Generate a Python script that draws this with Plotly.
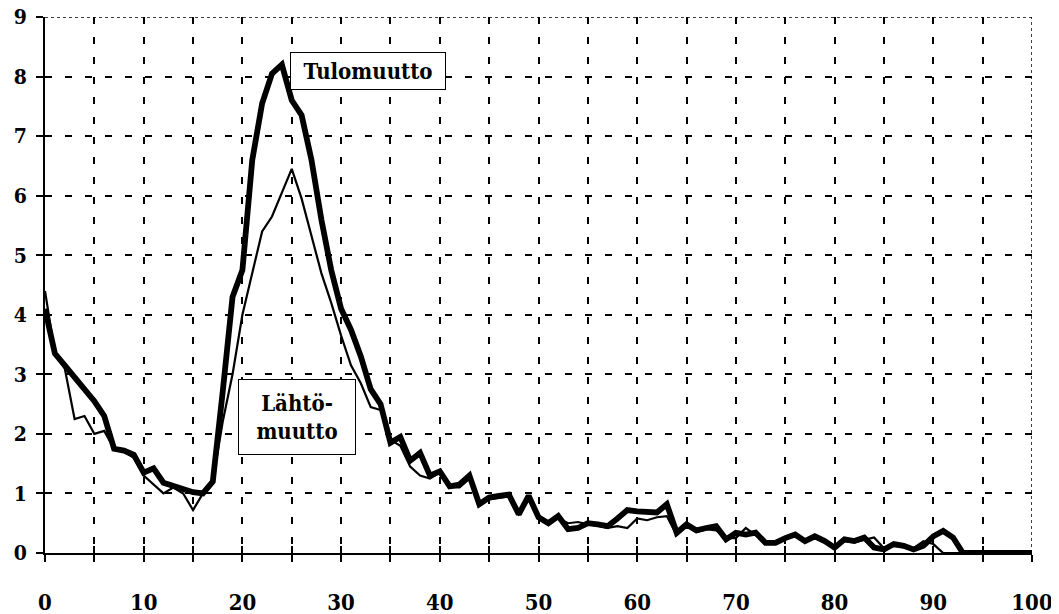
import plotly.graph_objects as go

ages = list(range(0, 101))

tulomuutto = [
    4.1, 3.35, 3.15, 2.95, 2.75, 2.55, 2.3, 1.75, 1.72, 1.65,
    1.35, 1.42, 1.18, 1.12, 1.06, 1.02, 1.0, 1.2, 2.7, 4.3,
    4.75, 6.6, 7.55, 8.05, 8.2, 7.6, 7.35, 6.6, 5.6, 4.75,
    4.1, 3.75, 3.3, 2.75, 2.5, 1.85, 1.95, 1.55, 1.68, 1.3,
    1.37, 1.12, 1.15, 1.3, 0.82, 0.93, 0.96, 0.98, 0.65, 0.96,
    0.6, 0.5, 0.62, 0.4, 0.42, 0.5, 0.48, 0.45, 0.58, 0.72,
    0.7, 0.68, 0.68, 0.82, 0.34, 0.48, 0.38, 0.42, 0.45, 0.23,
    0.34, 0.31, 0.34, 0.17, 0.17, 0.25, 0.31, 0.2, 0.28, 0.2,
    0.09, 0.23, 0.2, 0.26, 0.09, 0.06, 0.15, 0.12, 0.06, 0.12,
    0.28, 0.37, 0.26, 0.0, 0.0, 0.0, 0.0, 0.0, 0.0, 0.0,
    0.0,
]

lahtomuutto = [
    4.4, 3.35, 3.1, 2.25, 2.3, 2.0, 2.05, 1.75, 1.7, 1.6,
    1.3, 1.15, 1.0, 1.1, 1.0, 0.72, 1.0, 1.2, 2.2, 3.0,
    4.0, 4.7, 5.4, 5.65, 6.05, 6.45, 5.95, 5.3, 4.7, 4.2,
    3.65, 3.15, 2.85, 2.45, 2.4, 1.9, 1.8, 1.45, 1.3, 1.25,
    1.35, 1.1, 1.1, 1.25, 0.85, 0.9, 0.92, 0.95, 0.65, 0.9,
    0.62, 0.52, 0.58, 0.5, 0.52, 0.48, 0.46, 0.42, 0.45, 0.42,
    0.58, 0.55, 0.6, 0.62, 0.3, 0.45, 0.35, 0.4, 0.38, 0.25,
    0.25, 0.42, 0.3, 0.2, 0.18, 0.25, 0.28, 0.22, 0.25, 0.18,
    0.1, 0.2, 0.18, 0.22, 0.26, 0.08, 0.12, 0.1, 0.08, 0.2,
    0.15, 0.0, 0.0, 0.0, 0.0, 0.0, 0.0, 0.0, 0.0, 0.0,
    0.0,
]

x_tickvals = list(range(0, 101, 5))
x_ticktext = [str(v) if v % 10 == 0 else "" for v in x_tickvals]
x_gridvals = list(range(5, 100, 5))
y_tickvals = list(range(0, 10))
y_gridvals = list(range(1, 9))

FONT = "DejaVu Serif Condensed, DejaVu Serif"

fig = go.Figure()

# invisible trace to activate the overlay grid axes
fig.add_trace(go.Scatter(x=[], y=[], xaxis="x2", yaxis="y2",
                         showlegend=False, hoverinfo="skip"))

fig.add_trace(go.Scatter(x=ages, y=lahtomuutto, mode="lines", name="Lähtömuutto",
                         line=dict(color="black", width=2.2)))
fig.add_trace(go.Scatter(x=ages, y=tulomuutto, mode="lines", name="Tulomuutto",
                         line=dict(color="black", width=5.8)))

grid_dash = "7px,13px"

fig.update_layout(
    width=1051, height=606,
    margin=dict(l=37, r=27, t=9, b=61),
    paper_bgcolor="white", plot_bgcolor="white",
    showlegend=False,
    xaxis=dict(range=[0, 100], tickvals=x_tickvals, ticktext=x_ticktext,
               ticks="outside", ticklen=7, tickwidth=2, tickcolor="black",
               showgrid=False, zeroline=False, showline=True, linewidth=2,
               linecolor="black", ticklabelstandoff=22, automargin=False,
               ticklabeloverflow="allow",
               tickfont=dict(family=FONT, size=22, color="black", weight="bold")),
    yaxis=dict(range=[0, 9], tickvals=y_tickvals,
               ticks="outside", ticklen=7, tickwidth=2, tickcolor="black",
               showgrid=False, zeroline=False, showline=True, linewidth=2,
               linecolor="black", ticklabelstandoff=5, automargin=False,
               ticklabeloverflow="allow",
               tickfont=dict(family=FONT, size=21, color="black", weight="bold")),
    xaxis2=dict(range=[0, 100], overlaying="x", anchor="y2", tickvals=x_gridvals,
                ticks="inside", ticklen=7, tickwidth=2, tickcolor="black",
                showticklabels=False, showgrid=True, gridcolor="black",
                gridwidth=2, griddash=grid_dash, zeroline=False, showline=False,
                automargin=False),
    yaxis2=dict(range=[0, 9], overlaying="y", anchor="x2", tickvals=y_gridvals,
                ticks="inside", ticklen=7, tickwidth=2, tickcolor="black",
                showticklabels=False, showgrid=True, gridcolor="black",
                gridwidth=2, griddash=grid_dash, zeroline=False, showline=False,
                automargin=False),
    shapes=[
        dict(type="line", xref="x", yref="y", x0=0, x1=100, y0=9, y1=9,
             line=dict(color="black", width=1.5, dash="dot")),
        dict(type="line", xref="x", yref="y", x0=100, x1=100, y0=0, y1=9,
             line=dict(color="black", width=1.5, dash="dot")),
    ],
    annotations=[
        dict(x=24.8, y=8.1, xref="x", yref="y", xanchor="left", yanchor="middle",
             text="Tulomuutto", showarrow=False, width=150, height=32,
             font=dict(family=FONT, size=22, color="black", weight="bold"),
             bgcolor="white", bordercolor="black", borderwidth=1, borderpad=2),
        dict(x=25.5, y=2.28, xref="x", yref="y", xanchor="center", yanchor="middle",
             text="Lähtö-<br>muutto", showarrow=False, align="center",
             width=112, height=70,
             font=dict(family=FONT, size=22, color="black", weight="bold"),
             bgcolor="white", bordercolor="black", borderwidth=1, borderpad=2),
    ],
)

fig.write_html("out.html")
